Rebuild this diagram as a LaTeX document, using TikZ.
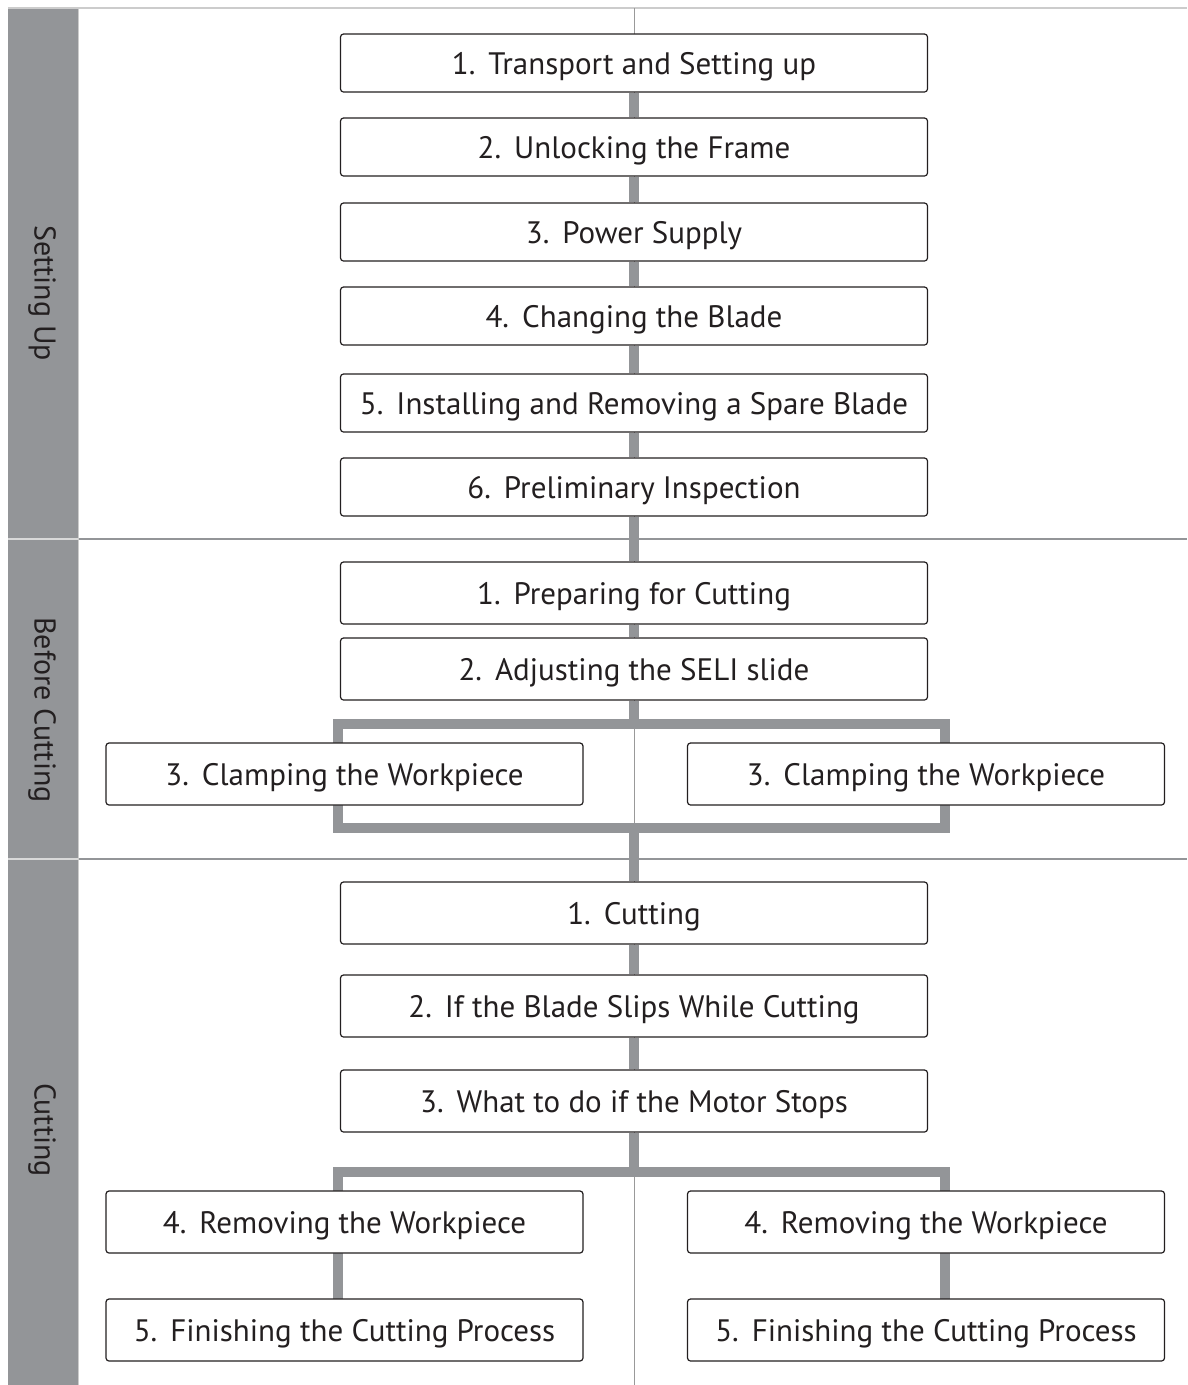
\documentclass[tikz,border=0pt]{standalone}
\usepackage{fontspec}
\setmainfont{PT Sans}
\usepackage{tikz}
\usetikzlibrary{positioning,backgrounds}
\definecolor{band}{HTML}{939598}
\definecolor{ink}{HTML}{231F20}
\newcommand{\no}[1]{#1.\hspace{0.42em}}

\begin{document}
\begin{tikzpicture}[x=1pt, y=-1pt,
  box/.style={draw=ink, line width=1.2pt, rounded corners=3pt, fill=white, text=ink,
    minimum width=587pt, minimum height=58pt, inner sep=0pt, text height=26pt, text depth=4pt,
    font=\fontsize{31}{36}\selectfont},
  sidebox/.style={box, minimum width=477pt, minimum height=62pt},
  midbox/.style={box, minimum height=62pt},
  link/.style={draw=band, line width=10pt},
  tab/.style={rotate=-90, text=ink, font=\fontsize{30}{36}\selectfont}]
 \useasboundingbox (0,0) rectangle (1187,1385);

 % steps
 \node[box] (s1) at (634,63)  {\no1Transport and Setting up};
 \node[box] (s2) at (634,147) {\no2Unlocking the Frame};
 \node[box] (s3) at (634,232) {\no3Power Supply};
 \node[box] (s4) at (634,316) {\no4Changing the Blade};
 \node[box] (s5) at (634,403) {\no5Installing and Removing a Spare Blade};
 \node[box] (s6) at (634,487) {\no6Preliminary Inspection};

 \node[midbox] (b1) at (634,593) {\no1Preparing for Cutting};
 \node[midbox] (b2) at (634,669) {\no2Adjusting the SELI slide};
 \node[sidebox] (b3l) at (344.5,774) {\no3Clamping the Workpiece};
 \node[sidebox] (b3r) at (926,774)   {\no3Clamping the Workpiece};

 \node[midbox] (c1) at (634,913)  {\no1Cutting};
 \node[midbox] (c2) at (634,1006) {\no2If the Blade Slips While Cutting};
 \node[midbox] (c3) at (634,1101) {\no3What to do if the Motor Stops};
 \node[sidebox] (c4l) at (344.5,1222) {\no4Removing the Workpiece};
 \node[sidebox] (c4r) at (926,1222)   {\no4Removing the Workpiece};
 \node[sidebox] (c5l) at (344.5,1330) {\no5Finishing the Cutting Process};
 \node[sidebox] (c5r) at (926,1330)   {\no5Finishing the Cutting Process};

 % sections
 \node[tab] (tset) at (42,293)  {Setting Up};
 \node[tab] (tbef) at (42,710)  {Before Cutting};
 \node[tab] (tcut) at (42,1130) {Cutting};

 \coordinate (jt) at (634,724);
 \coordinate (jb) at (634,828);
 \coordinate (jl) at (338,724);
 \coordinate (jr) at (945,828);
 \coordinate (k)  at (634,1172);
 \coordinate (kl) at (338,1172);
 \coordinate (kr) at (945,1172);

 \begin{scope}[on background layer]
  \fill[band] (8,8) rectangle (78,1385);
  \draw[black!20, line width=1.5pt] (8,8) -- (1187,8);
  \draw[black!15, line width=2pt] (8,539) -- (78,539) (8,859) -- (78,859);
  \draw[band, line width=2pt] (78,539) -- (1187,539) (78,859) -- (1187,859);
  \draw[black!40, line width=1pt] (634,8) -- (634,1385);
  \draw[black!20, line width=1pt] (78.5,8) -- (78.5,1385);
  % connectors
  \draw[link] (s1) -- (s2) -- (s3) -- (s4) -- (s5) -- (s6) -- (b1) -- (b2) -- (jt);
  \draw[link] (jl) rectangle (jr);
  \draw[link] (jb) -- (c1) -- (c2) -- (c3) -- (k);
  \draw[link] (c5l.center -| kl) -- (kl) -- (kr) -- (c5r.center -| kr);
 \end{scope}
\end{tikzpicture}
\end{document}
